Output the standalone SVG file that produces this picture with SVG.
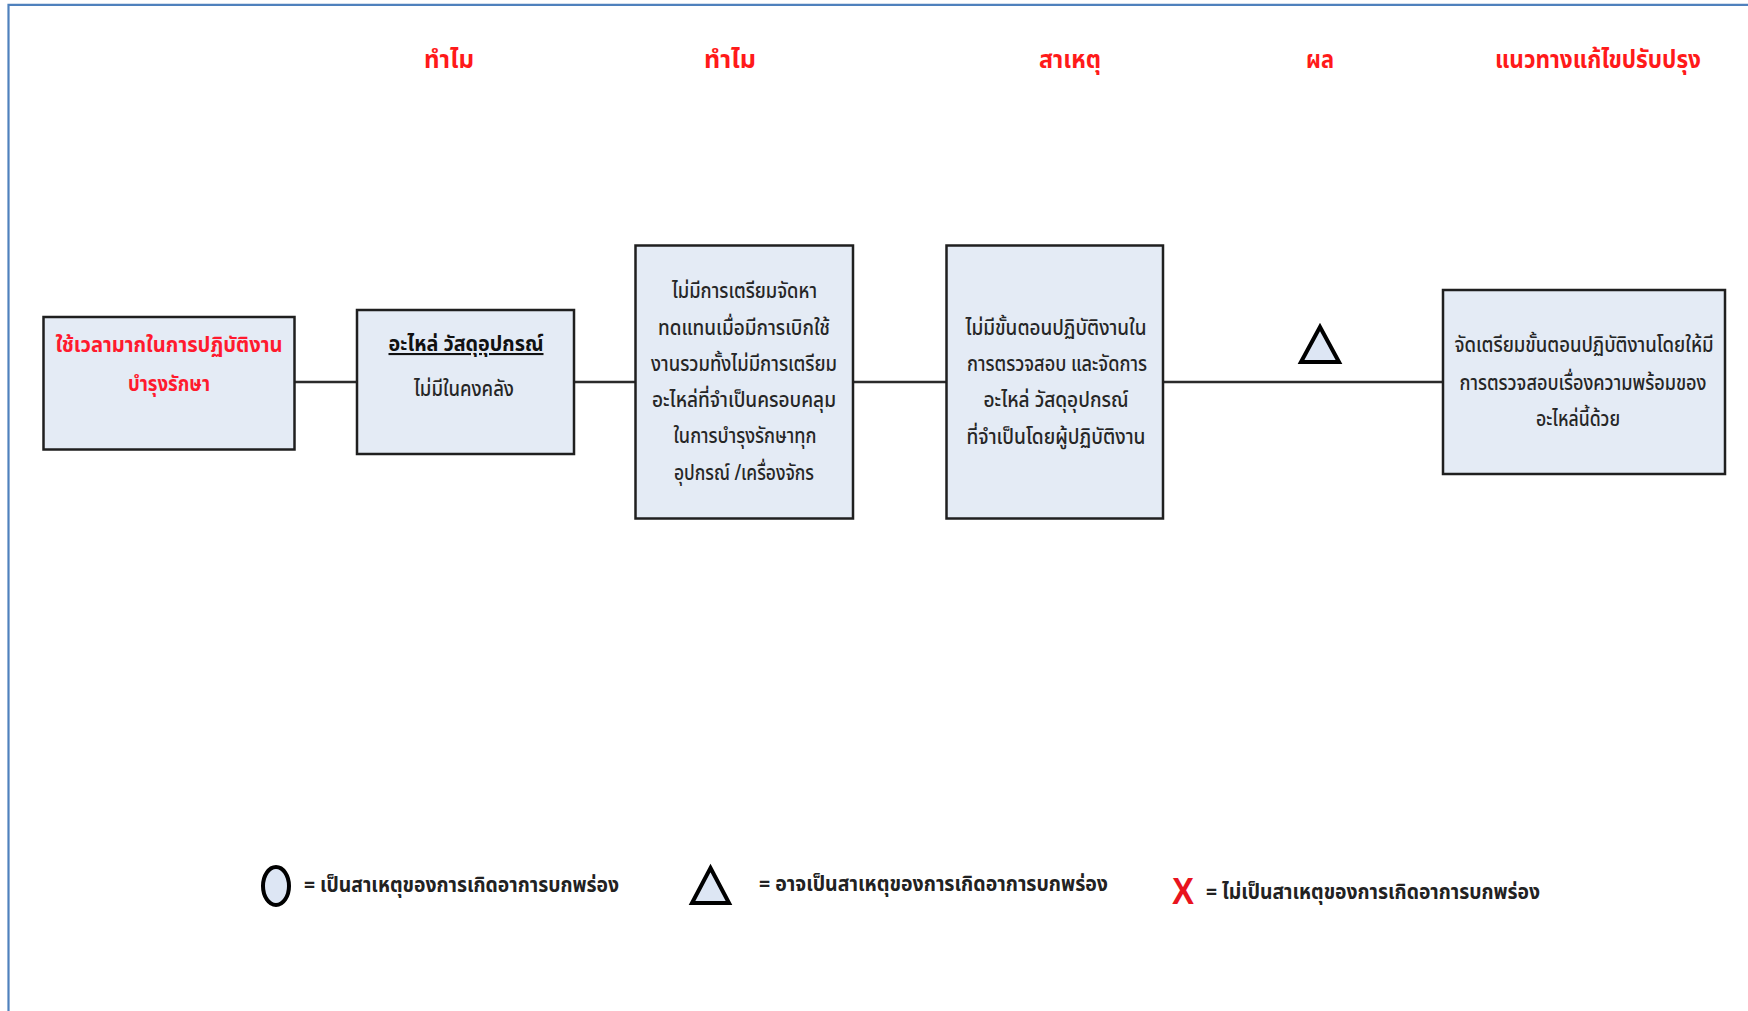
<svg xmlns="http://www.w3.org/2000/svg" width="1748" height="1011" viewBox="0 0 1748 1011">
  <defs>
    <style>
      .frame { fill: none; stroke: #4F81BD; stroke-width: 2.2; }
      .box { fill: #E4EBF5; stroke: #1f1f1f; stroke-width: 2.5; }
      .link { fill: none; stroke: #2b2b2b; stroke-width: 2.5; }
      .mark { fill: #DDE6F4; stroke: #000; stroke-width: 4; stroke-linejoin: miter; }
      text { font-family: "Noto Sans Thai", "Noto Sans", "DejaVu Sans", sans-serif; }
      .head { font-size: 24px; font-weight: bold; fill: #FF1A1A; text-anchor: middle; }
      .body { font-size: 21px; font-weight: 500; fill: #262626; text-anchor: middle; }
      .red { font-size: 22px; font-weight: bold; fill: #FF1A2E; text-anchor: middle; }
      .strong { font-size: 21px; font-weight: bold; fill: #111; text-anchor: middle; }
      .legend { font-size: 21px; font-weight: bold; fill: #222; }
      .x { font-family: "Liberation Sans", Arial, sans-serif; font-size: 37px; font-weight: bold; fill: #E8141E; }
    </style>
  </defs>

  <!-- page frame -->
  <path class="frame" d="M8.5,1011 V4.8 H1748"/>

  <!-- column headings -->
  <g id="headings">
    <text class="head" x="449" y="68" textLength="50" lengthAdjust="spacingAndGlyphs">ทำไม</text>
    <text class="head" x="730" y="68" textLength="52" lengthAdjust="spacingAndGlyphs">ทำไม</text>
    <text class="head" x="1070" y="68" textLength="62" lengthAdjust="spacingAndGlyphs">สาเหตุ</text>
    <text class="head" x="1320" y="68" textLength="28" lengthAdjust="spacingAndGlyphs">ผล</text>
    <text class="head" x="1598" y="68" textLength="206" lengthAdjust="spacingAndGlyphs">แนวทางแก้ไขปรับปรุง</text>
  </g>

  <!-- connectors -->
  <g id="connectors">
    <line class="link" x1="294" y1="382" x2="357" y2="382"/>
    <line class="link" x1="574" y1="382" x2="635" y2="382"/>
    <line class="link" x1="853" y1="382" x2="947" y2="382"/>
    <line class="link" x1="1163" y1="382" x2="1443" y2="382"/>
  </g>

  <!-- problem -->
  <g id="node-problem">
    <rect class="box" x="43.5" y="317" width="251" height="132.5"/>
    <text class="red" x="169" y="352" textLength="227" lengthAdjust="spacingAndGlyphs">ใช้เวลามากในการปฏิบัติงาน</text>
    <text class="red" x="169" y="391" textLength="82" lengthAdjust="spacingAndGlyphs">บำรุงรักษา</text>
  </g>

  <!-- why 1 -->
  <g id="node-why1">
    <rect class="box" x="357" y="310" width="217" height="144"/>
    <text class="strong" x="466" y="351" textLength="155" lengthAdjust="spacingAndGlyphs" text-decoration="underline">อะไหล่ วัสดุอุปกรณ์</text>
    <text class="body" x="464" y="396" textLength="100" lengthAdjust="spacingAndGlyphs">ไม่มีในคงคลัง</text>
  </g>

  <!-- why 2 -->
  <g id="node-why2">
    <rect class="box" x="635.5" y="245.5" width="217.5" height="273"/>
    <text class="body" x="744.5" y="298" textLength="145" lengthAdjust="spacingAndGlyphs">ไม่มีการเตรียมจัดหา</text>
    <text class="body" x="744" y="335" textLength="172" lengthAdjust="spacingAndGlyphs">ทดแทนเมื่อมีการเบิกใช้</text>
    <text class="body" x="744" y="371" textLength="186" lengthAdjust="spacingAndGlyphs">งานรวมทั้งไม่มีการเตรียม</text>
    <text class="body" x="744" y="407" textLength="184" lengthAdjust="spacingAndGlyphs">อะไหล่ที่จำเป็นครอบคลุม</text>
    <text class="body" x="745" y="443" textLength="143" lengthAdjust="spacingAndGlyphs">ในการบำรุงรักษาทุก</text>
    <text class="body" x="744" y="480" textLength="140" lengthAdjust="spacingAndGlyphs">อุปกรณ์ /เครื่องจักร</text>
  </g>

  <!-- cause -->
  <g id="node-cause">
    <rect class="box" x="946.5" y="245.5" width="216.5" height="273"/>
    <text class="body" x="1056" y="335" textLength="181" lengthAdjust="spacingAndGlyphs">ไม่มีขั้นตอนปฏิบัติงานใน</text>
    <text class="body" x="1057" y="371" textLength="180" lengthAdjust="spacingAndGlyphs">การตรวจสอบ และจัดการ</text>
    <text class="body" x="1056" y="407" textLength="145" lengthAdjust="spacingAndGlyphs">อะไหล่ วัสดุอุปกรณ์</text>
    <text class="body" x="1056" y="444" textLength="179" lengthAdjust="spacingAndGlyphs">ที่จำเป็นโดยผู้ปฏิบัติงาน</text>
  </g>

  <!-- result mark -->
  <g id="node-result">
    <polygon class="mark" points="1320,327 1339,362 1301,362"/>
  </g>

  <!-- improvement -->
  <g id="node-improve">
    <rect class="box" x="1443" y="290" width="282" height="184"/>
    <text class="body" x="1584" y="352" textLength="259" lengthAdjust="spacingAndGlyphs">จัดเตรียมขั้นตอนปฏิบัติงานโดยให้มี</text>
    <text class="body" x="1583" y="390" textLength="247" lengthAdjust="spacingAndGlyphs">การตรวจสอบเรื่องความพร้อมของ</text>
    <text class="body" x="1578" y="426" textLength="84" lengthAdjust="spacingAndGlyphs">อะไหล่นี้ด้วย</text>
  </g>

  <!-- legend -->
  <g id="legend">
    <ellipse class="mark" cx="276" cy="886" rx="13" ry="19"/>
    <text class="legend" x="304" y="892" textLength="315" lengthAdjust="spacingAndGlyphs">= เป็นสาเหตุของการเกิดอาการบกพร่อง</text>
    <polygon class="mark" points="710.5,868 729,903 692,903"/>
    <text class="legend" x="759" y="891" textLength="349" lengthAdjust="spacingAndGlyphs">= อาจเป็นสาเหตุของการเกิดอาการบกพร่อง</text>
    <text class="x" x="1172" y="904" textLength="22" lengthAdjust="spacingAndGlyphs">X</text>
    <text class="legend" x="1206" y="899" textLength="334" lengthAdjust="spacingAndGlyphs">= ไม่เป็นสาเหตุของการเกิดอาการบกพร่อง</text>
  </g>
</svg>
